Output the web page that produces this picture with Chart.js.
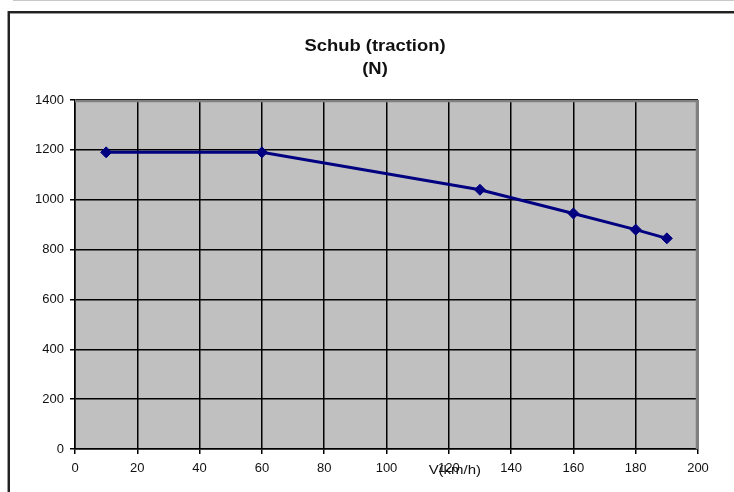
<!DOCTYPE html>
<html>
<head>
<meta charset="utf-8">
<style>
  html, body { margin: 0; padding: 0; background: #fff; }
  #wrap { width: 734px; height: 492px; position: relative; }
</style>
<script src="https://cdn.jsdelivr.net/npm/chart.js@4.4.1/dist/chart.umd.min.js"></script>
</head>
<body>
<div id="wrap"><canvas id="schubChart" width="734" height="492"></canvas></div>
<script>
// Schub über Geschwindigkeit
const geschwindigkeit = [10, 60, 130, 160, 180, 190];
const schub = [1190, 1190, 1040, 945, 880, 845];
const xTicks = [0, 20, 40, 60, 80, 100, 120, 140, 160, 180, 200];
const yTicks = [0, 200, 400, 600, 800, 1000, 1200, 1400];
const titel = ['Schub (traction)', '(N)'];
const xTitel = 'V(km/h)';

const FONT = '"Liberation Sans", Arial, sans-serif';

// Text leicht in die Breite gezogen zeichnen
function breitText(ctx, text, x, y, sx) {
    ctx.save();
    ctx.translate(x, y);
    ctx.scale(sx, 1);
    ctx.fillText(text, 0, 0);
    ctx.restore();
}

// Rahmen, Plotfläche und Beschriftungen
const rahmenPlugin = {
    id: 'rahmen',
    beforeDraw(chart) {
        const ctx = chart.ctx;
        const a = chart.chartArea;
        ctx.save();
        // dünne Linie ganz oben
        ctx.fillStyle = '#c8c8c8';
        ctx.fillRect(13, 0, 721, 1);
        // äußerer Rahmen
        ctx.fillStyle = '#999';
        ctx.fillRect(7, 11, 727, 3);
        ctx.fillRect(7, 11, 3, 481);
        ctx.fillStyle = '#222';
        ctx.fillRect(8, 11, 726, 2);
        ctx.fillRect(8, 11, 2, 481);
        // Plotfläche
        ctx.fillStyle = '#c0c0c0';
        ctx.fillRect(a.left, a.top, a.right - a.left, a.bottom - a.top);
        ctx.restore();
    },
    afterDatasetsDraw(chart) {
        const ctx = chart.ctx;
        const a = chart.chartArea;
        ctx.save();
        ctx.strokeStyle = '#808080';
        ctx.lineWidth = 2.5;
        ctx.beginPath();
        ctx.moveTo(a.left, a.top + 1);
        ctx.lineTo(a.right - 1, a.top + 1);
        ctx.lineTo(a.right - 1, a.bottom);
        ctx.stroke();
        ctx.fillStyle = '#111';
        ctx.textAlign = 'center';
        ctx.textBaseline = 'middle';
        ctx.font = 'bold 16px ' + FONT;
        breitText(ctx, titel[0], 375, 47, 1.15);
        breitText(ctx, titel[1], 375, 70, 1.15);
        ctx.font = '13px ' + FONT;
        const xs = chart.scales.x;
        breitText(ctx, xTitel, xs.getPixelForValue(120) + 6, 470, 1.15);
        ctx.restore();
    }
};

const config = {
    type: 'line',
    data: {
        datasets: [{
            label: 'Schub',
            data: geschwindigkeit.map((v, i) => ({ x: v, y: schub[i] })),
            borderColor: '#000080',
            backgroundColor: '#000080',
            borderWidth: 3,
            fill: false,
            tension: 0,
            pointStyle: 'rectRot',
            pointRadius: 5.5,
            pointBackgroundColor: '#000080',
            pointBorderColor: '#000080',
            pointBorderWidth: 1
        }]
    },
    options: {
        responsive: false,
        animation: false,
        layout: { padding: { top: 100, right: 36, left: 0, bottom: 0 } },
        plugins: {
            legend: { display: false },
            tooltip: { enabled: false }
        },
        scales: {
            x: {
                type: 'linear',
                min: 0,
                max: 200,
                afterBuildTicks(s) { s.ticks = xTicks.map(v => ({ value: v })); },
                afterFit(s) { s.height = 43; },
                ticks: {
                    color: '#111',
                    font: { family: FONT, size: 13 },
                    padding: 7,
                    maxRotation: 0,
                    callback: v => String(v)
                },
                grid: { color: '#000', lineWidth: 1.5, tickLength: 5 },
                border: { color: '#000', width: 1.5 }
            },
            y: {
                type: 'linear',
                min: 0,
                max: 1400,
                afterBuildTicks(s) { s.ticks = yTicks.map(v => ({ value: v })); },
                afterFit(s) { s.width = 75; },
                ticks: {
                    color: '#111',
                    font: { family: FONT, size: 13 },
                    padding: 6,
                    callback: v => String(v)
                },
                grid: { color: '#000', lineWidth: 1.5, tickLength: 5 },
                border: { color: '#000', width: 1.5 }
            }
        }
    },
    plugins: [rahmenPlugin]
};

new Chart(document.getElementById('schubChart').getContext('2d'), config);
</script>
</body>
</html>
